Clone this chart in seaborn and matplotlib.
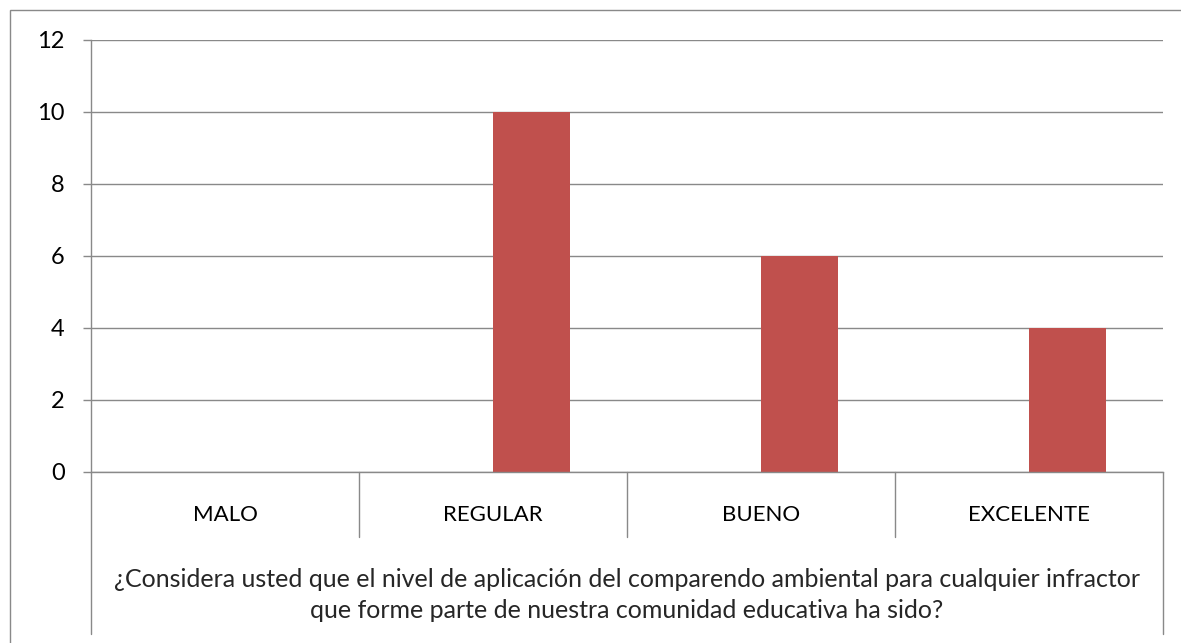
import pandas as pd
import matplotlib.pyplot as plt
from matplotlib.patches import Rectangle
import seaborn as sns

# Datos del gráfico
categorias = ['MALO', 'REGULAR', 'BUENO', 'EXCELENTE']
serie_vacia = [0, 0, 0, 0]      # primera serie sin valores (deja el hueco a la izquierda)
serie_valores = [0, 10, 6, 4]
titulo_eje = ('¿Considera usted que el nivel de aplicación del comparendo ambiental para cualquier infractor\n'
              'que forme parte de nuestra comunidad educativa ha sido?')
ticks_y = [0, 2, 4, 6, 8, 10, 12]

df = pd.DataFrame({
    'categoria': categorias * 2,
    'serie': ['Serie 1'] * len(categorias) + ['Serie 2'] * len(categorias),
    'valor': serie_vacia + serie_valores,
})

# Estilo
sns.set_style('white')
plt.rcParams['font.family'] = ['Lato', 'DejaVu Sans']

gris = '#898989'
rojo = '#C0504D'

W, H = 1181, 643
fig = plt.figure(figsize=(W / 100, H / 100), dpi=100)

# Área del gráfico en píxeles
x0, x1 = 91, 1163
y_top, y_cero = 40, 472
ax = fig.add_axes([x0 / W, (H - y_cero) / H, (x1 - x0) / W, (y_cero - y_top) / H])

sns.barplot(data=df, x='categoria', y='valor', hue='serie', order=categorias,
            palette=['#4F81BD', rojo], saturation=1, width=0.5714, linewidth=0,
            errorbar=None, legend=False, ax=ax)

ax.set_xlim(-0.5, len(categorias) - 0.5)
ax.set_ylim(0, 12)
ax.set_yticks(ticks_y)
ax.set_ylabel('')

# Líneas de cuadrícula horizontales
ax.grid(True, axis='y', color=gris, linewidth=1.0)
ax.grid(False, axis='x')
ax.set_axisbelow(True)

for lado in ['top', 'right']:
    ax.spines[lado].set_visible(False)
for lado in ['left', 'bottom']:
    ax.spines[lado].set_color(gris)
    ax.spines[lado].set_linewidth(1.0)

ax.tick_params(axis='y', left=True, length=6, width=1.0, color=gris,
               labelsize=17, pad=13, labelcolor='black')
ax.tick_params(axis='x', bottom=False, length=0, labelsize=16, pad=24,
               labelcolor='black')

# Separadores de categorías (eje de varios niveles)
alto_px = y_cero - y_top
prof_sep = -(537 - y_cero) / alto_px
prof_borde = -(634 - y_cero) / alto_px
for i in range(len(categorias) + 1):
    pos = i - 0.5
    fondo = prof_borde if i in (0, len(categorias)) else prof_sep
    ax.plot([pos, pos], [0, fondo], color=gris, linewidth=1.0,
            transform=ax.get_xaxis_transform(), clip_on=False)

# Título del eje de categorías
ax.set_xlabel(titulo_eje, fontsize=18, linespacing=1.4)
ax.xaxis.set_label_coords(0.5, -(595 - y_cero) / alto_px)
ax.xaxis.label.set_va('center')

# Marco exterior del gráfico
fig.add_artist(Rectangle((10 / W, -0.1), 1.2, 1.1 - 10 / H, transform=fig.transFigure,
                         fill=False, edgecolor=gris, linewidth=1.0))

plt.savefig('out.png', dpi=100)
